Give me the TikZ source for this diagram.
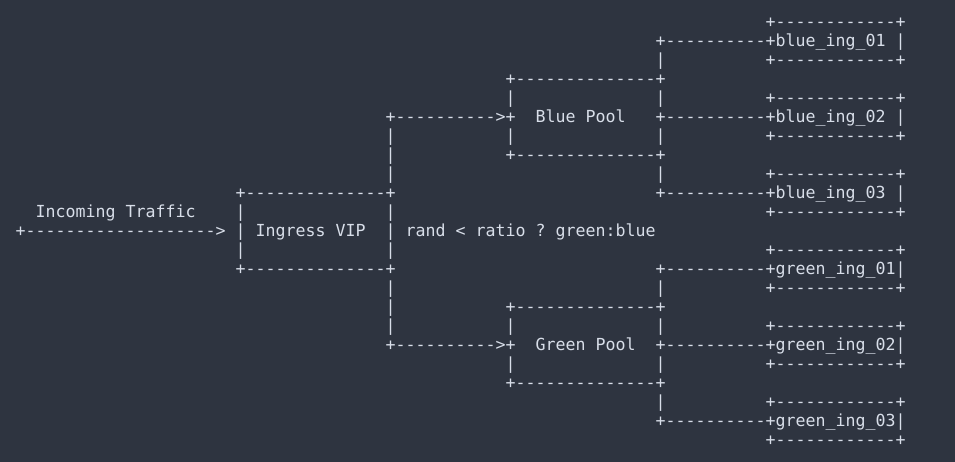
\documentclass[tikz,border=0pt]{standalone}
\usepackage{fontspec}
\usepackage{xcolor}
\newfontfamily\asciifont{DejaVu Sans Mono}
\definecolor{termbg}{HTML}{2E3440}
\definecolor{termfg}{HTML}{D8DEE9}
\newlength\colw
\setlength\colw{10pt}
\newcommand\gap[1]{\hspace*{#1\colw}}
\frenchspacing

\begin{document}
\begin{tikzpicture}[x=10pt, y=-19pt]
  \tikzstyle{ascii} = [anchor=base west, inner sep=0pt, outer sep=0pt, text=termfg, font=\asciifont\fontsize{16.61pt}{19pt}\selectfont]
  \fill[termbg] (-15.7pt, 27.3pt) rectangle (939.3pt, -434.7pt);
  % blue side
  \node[ascii] (row0) at (75, 0) {+------------+};
  \node[ascii] (row1) at (64, 1) {+----------+blue\_ing\_01 |};
  \node[ascii] (row2) at (64, 2) {|\gap{10}+------------+};
  \node[ascii] (row3) at (49, 3) {+--------------+};
  \node[ascii] (row4) at (49, 4) {|\gap{14}|\gap{10}+------------+};
  \node[ascii] (row5) at (37, 5) {+---------->+\gap{2}Blue Pool\gap{3}+----------+blue\_ing\_02 |};
  \node[ascii] (row6) at (37, 6) {|\gap{11}|\gap{14}|\gap{10}+------------+};
  \node[ascii] (row7) at (37, 7) {|\gap{11}+--------------+};
  \node[ascii] (row8) at (37, 8) {|\gap{26}|\gap{10}+------------+};
  \node[ascii] (row9) at (22, 9) {+--------------+\gap{26}+----------+blue\_ing\_03 |};
  % ingress
  \node[ascii] (row10) at (2, 10) {Incoming Traffic\gap{4}|\gap{14}|\gap{37}+------------+};
  \node[ascii] (row11) at (0, 11) {+------------------->\gap{1}| Ingress VIP\gap{2}| rand < ratio ? green:blue};
  \node[ascii] (row12) at (22, 12) {|\gap{14}|\gap{37}+------------+};
  \node[ascii] (row13) at (22, 13) {+--------------+\gap{26}+----------+green\_ing\_01|};
  % green side
  \node[ascii] (row14) at (37, 14) {|\gap{26}|\gap{10}+------------+};
  \node[ascii] (row15) at (37, 15) {|\gap{11}+--------------+};
  \node[ascii] (row16) at (37, 16) {|\gap{11}|\gap{14}|\gap{10}+------------+};
  \node[ascii] (row17) at (37, 17) {+---------->+\gap{2}Green Pool\gap{2}+----------+green\_ing\_02|};
  \node[ascii] (row18) at (49, 18) {|\gap{14}|\gap{10}+------------+};
  \node[ascii] (row19) at (49, 19) {+--------------+};
  \node[ascii] (row20) at (64, 20) {|\gap{10}+------------+};
  \node[ascii] (row21) at (64, 21) {+----------+green\_ing\_03|};
  \node[ascii] (row22) at (75, 22) {+------------+};
\end{tikzpicture}
\end{document}
